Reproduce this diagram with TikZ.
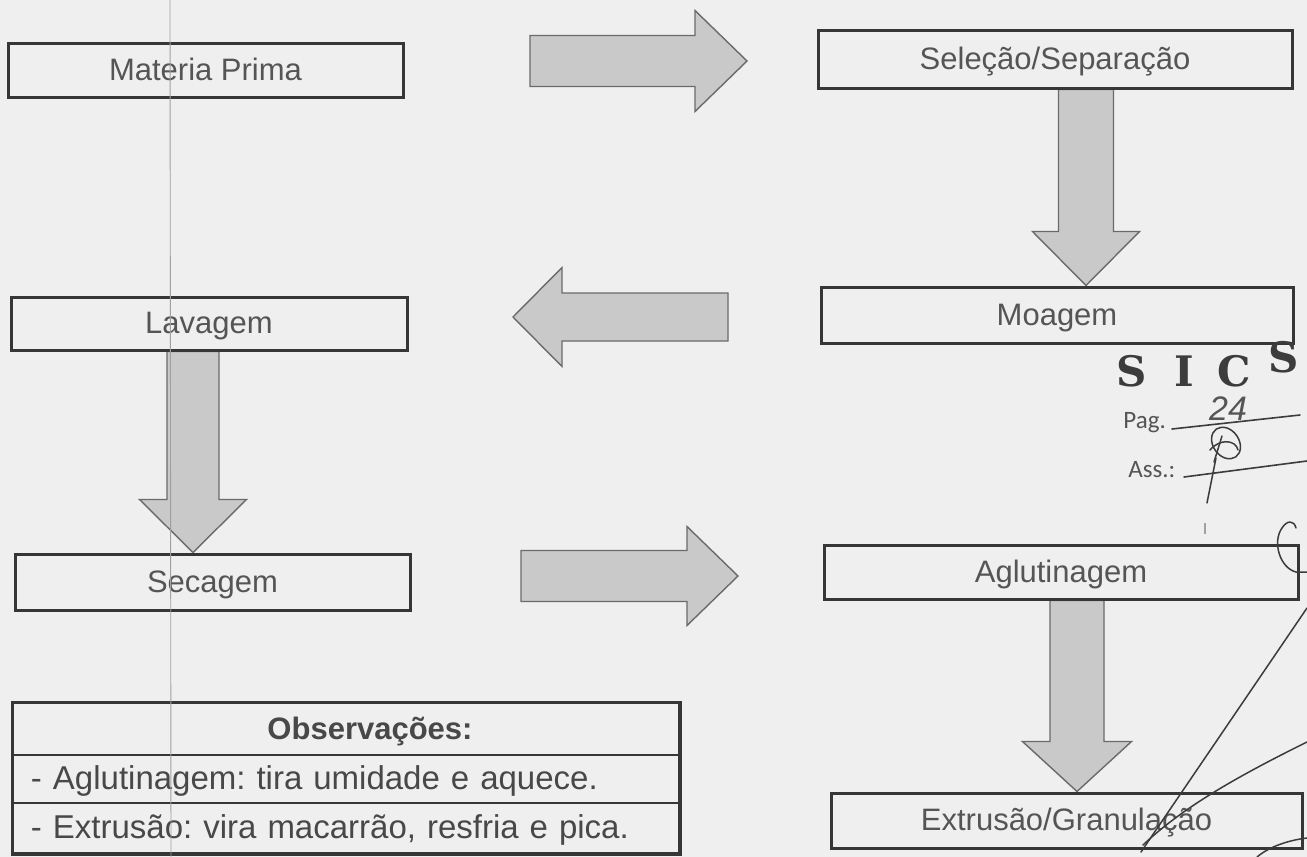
\documentclass[tikz,border=0pt]{standalone}
\usepackage{fontspec}
\setmainfont{Liberation Sans}
\newfontfamily\stampfont{DejaVu Serif}
\newfontfamily\calfont{Carlito}
\usetikzlibrary{calc,backgrounds}

\definecolor{bg}{HTML}{EFEFEF}
\definecolor{boxc}{HTML}{363636}
\definecolor{txtc}{HTML}{555555}
\definecolor{obstxt}{HTML}{484848}
\definecolor{arrfill}{HTML}{C9C9C9}
\definecolor{arrdraw}{HTML}{6A6A6A}
\definecolor{inkc}{HTML}{3C3C3C}
\definecolor{scanc}{HTML}{A0A0A0}

\tikzset{
  stepbox/.style={draw=boxc, line width=1.5pt, fill=bg, text=txtc,
    font=\fontsize{15.5}{18}\selectfont, inner sep=0pt,
    text height=11pt, text depth=1pt},
  obsrow/.style={draw=boxc, line width=1pt, fill=bg, text=obstxt,
    minimum width=333pt, text width=315pt, inner xsep=9pt, inner ysep=0pt,
    font=\fontsize{16.5}{19}\selectfont, text height=11.5pt, text depth=1.5pt},
  barrow/.style={fill=arrfill, draw=arrdraw, line width=0.7pt, line join=miter},
  ink/.style={draw=inkc, line width=0.75pt, line cap=round, line join=round},
  scanline/.style={draw=scanc, line width=0.45pt},
}

\newcommand\vblockarrow[5]{%
  \draw[barrow] let \p1=(#1), \p2=(#2) in
    ({\x2-#3},\y1) -- ({\x2-#3},{\y2+#5}) -- ({\x2-#4},{\y2+#5}) -- (\x2,\y2)
    -- ({\x2+#4},{\y2+#5}) -- ({\x2+#3},{\y2+#5}) -- ({\x2+#3},\y1) -- cycle;}
\newcommand\hblockarrow[5]{%
  \draw[barrow] let \p1=(#1), \p2=(#2) in
    (\x1,{\y2-#3}) -- ({\x2-(#5)},{\y2-#3}) -- ({\x2-(#5)},{\y2-#4}) -- (\x2,\y2)
    -- ({\x2-(#5)},{\y2+#4}) -- ({\x2-(#5)},{\y2+#3}) -- (\x1,{\y2+#3}) -- cycle;}

\begin{document}
\frenchspacing
\begin{tikzpicture}[x=0.5pt,y=-0.5pt]
\useasboundingbox (0,0) rectangle (1307,857);

% process boxes
\node[stepbox, minimum width=197.5pt, minimum height=27pt]  (mp)   at (205.5,70)   {Materia Prima};
\node[stepbox, minimum width=237pt,   minimum height=29pt]  (sel)  at (1055,59)    {Seleção/Separação};
\node[stepbox, minimum width=236pt,   minimum height=28pt]  (moag) at (1057,315)   {Moagem};
\node[stepbox, minimum width=198pt,   minimum height=26.5pt](lav)  at (209,323.5)  {Lavagem};
\node[stepbox, minimum width=197.5pt, minimum height=28pt]  (sec)  at (212.5,582)  {Secagem};
\node[stepbox, minimum width=237pt,   minimum height=27pt]  (agl)  at (1061,572)   {Aglutinagem};
\node[stepbox, minimum width=235.5pt, minimum height=27.5pt](ext)  at (1066.5,820.5) {Extrusão/Granulação};

% observations table
\node[obsrow, align=center, minimum height=26pt] (obsh) at (346,729)
  {\hspace*{24pt}\fontsize{15.5}{18}\selectfont\bfseries Observações:};
\node[obsrow, align=left, minimum height=24pt] (obs1) at (346,779)
  {- Aglutinagem: tira umidade e aquece.};
\node[obsrow, align=left, minimum height=25pt] (obs2) at (346,828)
  {- Extrusão: vira macarrão, resfria e pica.};
\draw[draw=boxc, line width=1.5pt] (obsh.north west) rectangle (obs2.south east);

% connector end points
\coordinate (x1) at (1086,0);
\coordinate (x2) at (193,0);
\coordinate (x3) at (1077,0);
\coordinate (v1t) at (sel.south -| x1);  \coordinate (v1h) at (moag.north -| x1);
\coordinate (v2t) at (lav.south -| x2);  \coordinate (v2h) at (sec.north -| x2);
\coordinate (v3t) at (agl.south -| x3);  \coordinate (v3h) at (ext.north -| x3);
\coordinate (h1t) at (530,61);  \coordinate (h1h) at (747,61);
\coordinate (h2t) at (728,317); \coordinate (h2h) at (513,317);
\coordinate (h3t) at (521,576); \coordinate (h3h) at (738,576);

\begin{scope}[on background layer]
  \fill[bg] (0,0) rectangle (1307,857);
  \vblockarrow{v1t}{v1h}{13.75pt}{26.75pt}{27pt}
  \vblockarrow{v2t}{v2h}{13pt}{26.75pt}{26.5pt}
  \vblockarrow{v3t}{v3h}{13.5pt}{27.25pt}{25pt}
  \hblockarrow{h1t}{h1h}{12.75pt}{25.25pt}{26pt}
  \hblockarrow{h2t}{h2h}{12pt}{24.75pt}{-24.5pt}
  \hblockarrow{h3t}{h3h}{12.75pt}{24.75pt}{25.5pt}
\end{scope}

% stamp
\node[anchor=base, inner sep=0pt, text=inkc, font=\stampfont\bfseries\fontsize{21}{24}\selectfont] (stamp) at (1207,386)
  {\makebox[27pt]{S}\makebox[25pt]{I}\makebox[25pt]{C}\makebox[25pt]{\raisebox{7pt}{S}}};
\node[anchor=base west, inner sep=0pt, text=txtc, font=\calfont\fontsize{12.5}{14}\selectfont] (pag) at (1123,428) {Pag.};
\node[anchor=base west, inner sep=0pt, text=txtc, font=\calfont\fontsize{12.5}{14}\selectfont] (ass) at (1128,477) {Ass.:};
\draw[ink, line width=0.8pt] (1172,429) -- (1300,415);
\draw[ink, line width=0.8pt] (1184,477) -- (1307,461);
\node[anchor=base, inner sep=0pt, text=txtc, font=\itshape\fontsize{17}{19}\selectfont] (num) at (1228,420) {24};
% signature
\draw[ink] (1226,443) ellipse [x radius=13, y radius=17, rotate=35];
\draw[ink] (1210,450) .. controls (1220,438) and (1236,440) .. (1238,450);
\draw[ink] (1222,436) -- (1214,462);
\draw[ink] (1216,458) -- (1207,503);
% handwritten marks
\draw[ink] (1307,572) -- (1296,572) .. controls (1280,568) and (1272,542) .. (1282,528)
  .. controls (1287,520) and (1294,520) .. (1296,528);
\draw[ink] (1307,608) -- (1141,852);
\draw[ink] (1307,742) .. controls (1230,780) and (1180,810) .. (1143,845);
\draw[ink] (1257,857) .. controls (1270,846) and (1290,840) .. (1307,838);
\draw[scanc, line width=0.6pt] (1205,523) -- (1205,534);

% scan fold line
\draw[scanline] (170,0) -- (171,857);
\end{tikzpicture}
\end{document}
